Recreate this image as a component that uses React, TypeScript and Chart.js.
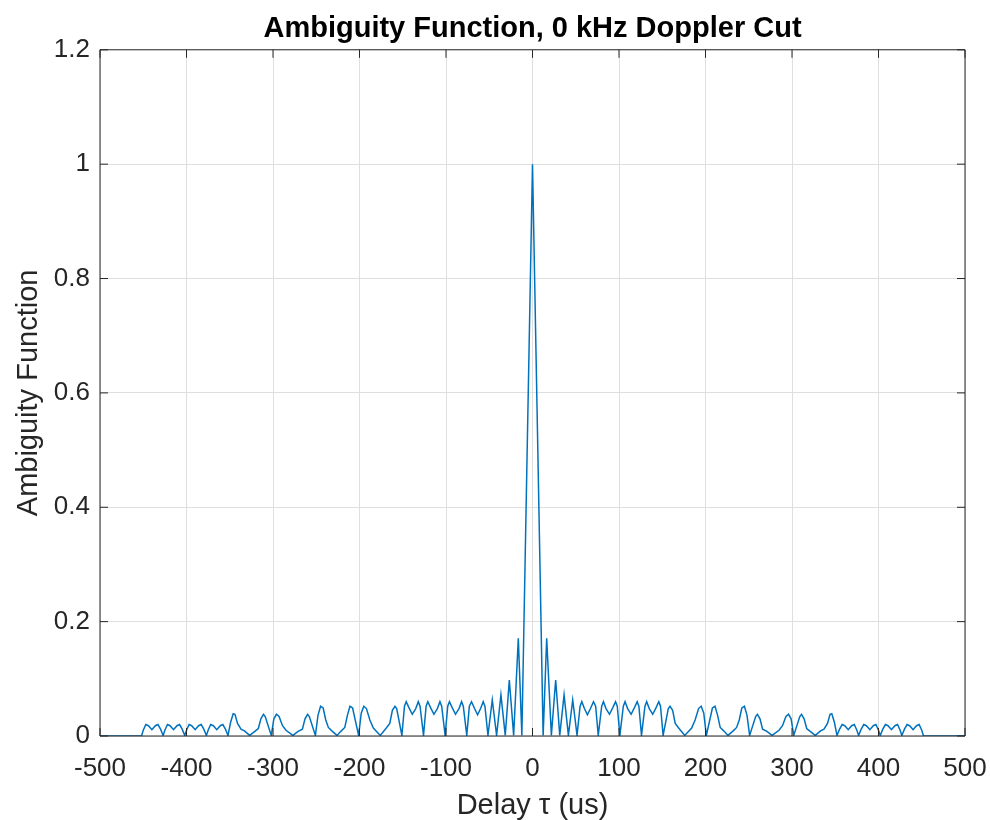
import React, { useEffect, useRef } from "react";
import { Chart, registerables } from "chart.js";

Chart.register(...registerables);

// Delay axis (us) of the zero-Doppler cut
const delayUs = [
  -500, -452, -450, -447, -444, -440, -436, -433, -430, -427,
  -425, -422, -419, -415, -411, -408, -405, -402,
  -400, -397, -394, -390, -386, -383, -380, -377,
  -375, -372, -369, -365, -361, -358, -355, -352,
  -349, -346, -344, -341, -337, -333, -327,
  -321, -317, -314, -311, -309, -302,
  -299, -296, -293, -289, -285, -277,
  -271, -266, -263, -260, -258, -251,
  -248, -245, -242, -239, -236, -232, -226,
  -221, -217, -214, -211, -208, -201,
  -198, -195, -192, -188, -184, -176,
  -169, -165, -162, -159, -157, -151,
  -148, -146, -143, -139, -135, -132, -130, -126,
  -123, -121, -118, -114, -110, -107, -105, -101,
  -98, -96, -93, -89, -85, -82, -80, -76,
  -73, -70.5, -67, -63.5, -60, -57, -55, -51.5,
  -46.5, -41.5, -36.5, -31.5, -26.8, -21.8, -16.4, -12.3,
  0,
  12.3, 16.4, 21.8, 26.8, 31.5, 36.5, 41.5, 46.5,
  51.5, 55, 57, 60, 63.5, 67, 70.5, 73,
  76, 80, 82, 85, 89, 93, 96, 98,
  101, 105, 107, 110, 114, 118, 121, 123,
  126, 130, 132, 135, 139, 143, 146, 148,
  151, 157, 159, 162, 165, 169,
  176, 184, 188, 192, 195, 198,
  201, 208, 211, 214, 217, 221,
  226, 232, 236, 239, 242, 245, 248,
  251, 258, 260, 263, 266, 271,
  277, 285, 289, 293, 296, 299,
  302, 309, 311, 314, 317, 321,
  327, 333, 337, 341, 344, 346, 349,
  352, 355, 358, 361, 365, 369, 372, 375,
  377, 380, 383, 386, 390, 394, 397, 400,
  402, 405, 408, 411, 415, 419, 422, 425,
  427, 430, 433, 436, 440, 444, 447, 450, 452, 500,
];

// Normalised ambiguity magnitude at each delay
const ambiguity = [
  0, 0, 0.010, 0.020, 0.018, 0.011, 0.018, 0.020, 0.012, 0.001,
  0.010, 0.020, 0.018, 0.011, 0.018, 0.020, 0.012, 0.001,
  0.010, 0.020, 0.018, 0.011, 0.018, 0.020, 0.012, 0.001,
  0.010, 0.020, 0.018, 0.011, 0.018, 0.020, 0.012, 0.001,
  0.024, 0.039, 0.038, 0.022, 0.012, 0.009, 0.001,
  0.008, 0.013, 0.030, 0.038, 0.034, 0.001,
  0.030, 0.038, 0.034, 0.018, 0.010, 0.001,
  0.008, 0.012, 0.030, 0.038, 0.034, 0.001,
  0.036, 0.052, 0.049, 0.028, 0.015, 0.009, 0.001,
  0.009, 0.015, 0.036, 0.052, 0.049, 0.001,
  0.040, 0.052, 0.048, 0.028, 0.014, 0.001,
  0.014, 0.022, 0.045, 0.052, 0.048, 0.001,
  0.052, 0.060, 0.050, 0.038, 0.048, 0.060, 0.052, 0.001,
  0.052, 0.060, 0.050, 0.038, 0.048, 0.060, 0.052, 0.001,
  0.052, 0.060, 0.050, 0.038, 0.048, 0.060, 0.052, 0.001,
  0.052, 0.060, 0.048, 0.037, 0.048, 0.060, 0.052, 0.001,
  0.063, 0.001, 0.072, 0.001, 0.098, 0.001, 0.171, 0.001,
  1.0,
  0.001, 0.171, 0.001, 0.098, 0.001, 0.072, 0.001, 0.063,
  0.001, 0.052, 0.060, 0.048, 0.037, 0.048, 0.060, 0.052,
  0.001, 0.052, 0.060, 0.048, 0.038, 0.050, 0.060, 0.052,
  0.001, 0.052, 0.060, 0.048, 0.038, 0.050, 0.060, 0.052,
  0.001, 0.052, 0.060, 0.048, 0.038, 0.050, 0.060, 0.052,
  0.001, 0.048, 0.052, 0.045, 0.022, 0.014,
  0.001, 0.014, 0.028, 0.048, 0.052, 0.040,
  0.001, 0.049, 0.052, 0.036, 0.015, 0.009,
  0.001, 0.009, 0.015, 0.028, 0.049, 0.052, 0.036,
  0.001, 0.034, 0.038, 0.030, 0.012, 0.008,
  0.001, 0.010, 0.018, 0.034, 0.038, 0.030,
  0.001, 0.034, 0.038, 0.030, 0.013, 0.008,
  0.001, 0.009, 0.012, 0.022, 0.038, 0.039, 0.024,
  0.001, 0.012, 0.020, 0.018, 0.011, 0.018, 0.020, 0.010,
  0.001, 0.012, 0.020, 0.018, 0.011, 0.018, 0.020, 0.010,
  0.001, 0.012, 0.020, 0.018, 0.011, 0.018, 0.020, 0.010,
  0.001, 0.012, 0.020, 0.018, 0.011, 0.018, 0.020, 0.010, 0, 0,
];

const xTickValues = [-500, -400, -300, -200, -100, 0, 100, 200, 300, 400, 500];
const yTickValues = [0, 0.2, 0.4, 0.6, 0.8, 1, 1.2];

const titleText = "Ambiguity Function, 0 kHz Doppler Cut";
const xLabel = "Delay \u03C4 (us)";
const yLabel = "Ambiguity Function";

const FONT = "'Liberation Sans', Arial, Helvetica, sans-serif";
const AXIS_COLOR = "#262626";
const GRID_COLOR = "#dfdfdf";
const LINE_COLOR = "#0072BD";

const boxPlugin = {
  id: "matlabBox",
  afterDatasetsDraw(chart: any) {
    const { ctx, chartArea, scales } = chart;
    const { left, right, top, bottom } = chartArea;
    const tl = 8;
    ctx.save();
    ctx.strokeStyle = AXIS_COLOR;
    ctx.lineWidth = 1;
    ctx.beginPath();
    ctx.rect(left, top, right - left, bottom - top);
    xTickValues.forEach((v) => {
      const px = scales.x.getPixelForValue(v);
      ctx.moveTo(px, bottom);
      ctx.lineTo(px, bottom - tl);
      ctx.moveTo(px, top);
      ctx.lineTo(px, top + tl);
    });
    yTickValues.forEach((v) => {
      const py = scales.y.getPixelForValue(v);
      ctx.moveTo(left, py);
      ctx.lineTo(left + tl, py);
      ctx.moveTo(right, py);
      ctx.lineTo(right - tl, py);
    });
    ctx.stroke();
    ctx.restore();
  },
};

export default function App() {
  const canvasRef = useRef<HTMLCanvasElement | null>(null);

  useEffect(() => {
    const canvas = canvasRef.current;
    if (!canvas) return;
    const points = delayUs.map((x, i) => ({ x, y: ambiguity[i] }));
    const chart = new Chart(canvas, {
      type: "line",
      data: {
        datasets: [
          {
            data: points,
            borderColor: LINE_COLOR,
            borderWidth: 1.5,
            pointRadius: 0,
            tension: 0,
            fill: false,
          },
        ],
      },
      options: {
        responsive: false,
        animation: false,
        devicePixelRatio: 1,
        layout: { padding: { left: 0, right: 25, top: 0, bottom: 0 } },
        plugins: {
          legend: { display: false },
          tooltip: { enabled: false },
          title: {
            display: true,
            fullSize: false,
            text: titleText,
            color: "#000000",
            font: { family: FONT, size: 29, weight: "bold" },
            padding: { top: 12, bottom: 3 },
          },
        },
        scales: {
          x: {
            type: "linear",
            min: -500,
            max: 500,
            afterBuildTicks: (scale: any) => {
              scale.ticks = xTickValues.map((v) => ({ value: v }));
            },
            afterFit: (scale: any) => {
              scale.height = 84;
              scale.paddingLeft = 0;
              scale.paddingRight = 0;
            },
            ticks: {
              color: AXIS_COLOR,
              font: { family: FONT, size: 26 },
              padding: 17,
              maxRotation: 0,
              callback: (v: any) => String(v),
            },
            grid: { color: GRID_COLOR, drawTicks: false, lineWidth: 1 },
            border: { display: false },
            title: {
              display: true,
              text: xLabel,
              color: AXIS_COLOR,
              font: { family: FONT, size: 29, lineHeight: 1.0 },
              padding: { top: 0, bottom: 0 },
            },
          },
          y: {
            type: "linear",
            min: 0,
            max: 1.2,
            afterBuildTicks: (scale: any) => {
              scale.ticks = yTickValues.map((v) => ({ value: v }));
            },
            afterFit: (scale: any) => {
              scale.width = 100;
            },
            ticks: {
              color: AXIS_COLOR,
              font: { family: FONT, size: 26 },
              padding: 10,
              callback: (v: any) => String(Math.round(Number(v) * 10) / 10),
            },
            grid: { color: GRID_COLOR, drawTicks: false, lineWidth: 1 },
            border: { display: false },
            title: {
              display: true,
              text: yLabel,
              color: AXIS_COLOR,
              font: { family: FONT, size: 29 },
              padding: { top: 12, bottom: 0 },
            },
          },
        },
      },
      plugins: [boxPlugin],
    });
    return () => chart.destroy();
  }, []);

  return (
    <div style={{ position: "absolute", left: 0, top: 0, width: 990, height: 820, background: "#ffffff" }}>
      <canvas ref={canvasRef} width={990} height={820} />
    </div>
  );
}
